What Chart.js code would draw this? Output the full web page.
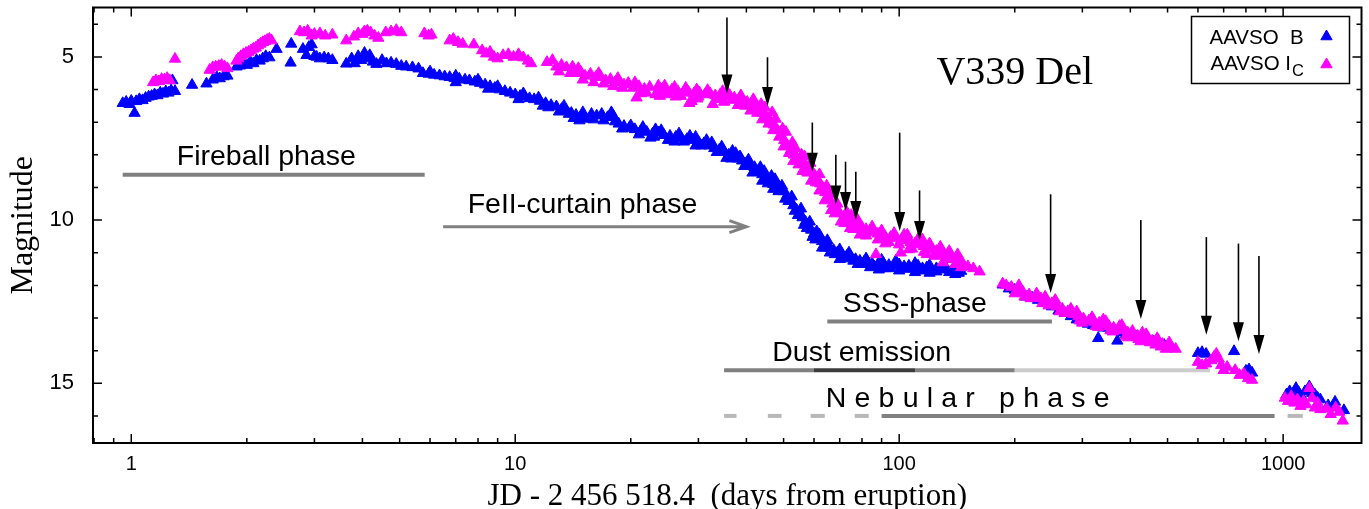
<!DOCTYPE html>
<html>
<head>
<meta charset="utf-8">
<script src="https://cdn.jsdelivr.net/npm/chart.js@4.4.0/dist/chart.umd.min.js"></script>
<style>
  html, body { margin: 0; padding: 0; background: #fff; }
  #wrap { width: 1369px; height: 509px; }
</style>
</head>
<body>
<div id="wrap"><canvas id="lightcurve"></canvas></div>
<script>
// AAVSO B band (days from eruption, magnitude)
var bDays = [
  0.95, 0.97, 0.99, 1.0, 1.02, 1.03, 1.05, 1.07, 1.09, 1.11, 1.13, 1.15, 1.17, 1.19, 1.21, 1.23, 1.25, 1.27, 1.28, 1.3,
  1.44, 1.57, 1.63, 1.67, 1.7, 1.74, 1.78,
  1.88, 1.92, 1.96, 2.0, 2.04, 2.08, 2.12, 2.16, 2.2, 2.24, 2.29, 2.39, 2.6, 2.61,
  2.8, 2.86, 2.9, 2.95, 3.0, 3.04, 3.1, 3.18, 3.26, 3.34,
  3.63, 3.75, 3.82, 3.9, 3.97, 4.05, 4.1, 4.18, 4.26, 4.35, 4.5, 4.62, 4.75, 4.9, 5.05, 5.2, 5.4, 5.6,
  5.75, 5.95, 6.15, 6.35, 6.55, 6.75, 6.95, 7.15, 7.4, 7.6, 7.85, 8.1, 8.35, 8.6, 8.85, 9.1, 9.4, 9.7, 10.0, 10.3,
  10.6, 10.9, 11.2, 11.6, 12.0, 12.4, 12.8, 13.2, 13.6, 14.0, 14.4, 14.7, 14.8, 15.3, 15.8, 16.3, 16.8, 17.4, 18.0,
  18.6, 19.2, 19.8, 20.5, 21.2, 22.0, 22.8, 23.6, 24.4, 25.3, 26.2, 27.1, 28.0, 29.0, 30.0, 31.0, 32.0, 33.0, 34.0,
  35.0, 36.0, 37.0, 38.0, 39.0, 40.0, 41.0, 42.0, 43.0, 44.0, 45.0, 46.0, 47.0, 48.0, 49.0, 50.0, 51.0, 52.0, 53.0,
  54.0, 55.0, 56.0, 57.0, 58.0, 59.0, 60.0, 61.5, 63.0, 64.5, 66.0, 67.5, 69.0, 71.0, 73.0, 75.0, 77.0, 79.0, 81.0,
  83.0, 85.0, 88.0, 88.5, 91, 94, 97, 100, 103, 106, 109, 112, 115, 118, 121, 125, 129, 133, 137, 141, 145,
  12.2, 13.0, 13.8, 16.0, 17.0, 19.0, 21.0, 23.0, 25.0, 27.5, 30.5, 33.5, 36.5, 39.5, 42.5, 45.5, 48.5, 51.5, 54.5,
  57.5, 60.5, 64, 68, 72, 76, 80, 86, 95, 105, 115, 125, 135, 143,
  20, 24, 28.5, 32.5, 37.5, 44.5, 47.5, 62, 70, 98, 110, 130,
  6.0, 7.0, 8.0, 9.0, 10.5, 11.5, 13.4, 15.0, 17.8, 21.5, 23.2, 26.7, 29.5, 31.5, 34.5, 36.8, 38.5, 40.5, 43.5,
  46.5, 49.5, 52.5, 55.5, 58.5, 61, 65, 74, 82, 90, 120, 140,
  7.0, 8.5, 10.2, 11.8, 14.2, 18.2, 22.5, 26, 29.5, 35.5, 41.5, 44, 47, 50.5, 53.5, 56.5, 59.5, 63, 66, 70, 78,
  84, 92, 100, 110, 120, 140,
  186, 193, 200, 207, 214, 222, 230, 240, 250, 260, 270, 280, 290, 300, 310, 320, 330, 340, 350, 360, 370, 380,
  390, 400, 415, 430, 445, 460, 475, 490,
  600, 615, 630, 745, 800, 815, 830,
  1020, 1040, 1045, 1060, 1080, 1090, 1100, 1120, 1140, 1170, 1190, 1210, 1230, 1250, 1310, 1365, 1440
];
var bMags = [
  6.42, 6.38, 6.45, 6.35, 6.72, 6.36, 6.3, 6.33, 6.26, 6.22, 6.2, 6.15, 6.18, 6.1, 6.13, 6.06, 6.1, 6.03, 5.72, 6.05,
  5.86, 5.82, 5.7, 5.62, 5.66, 5.6, 5.58,
  5.3, 5.27, 5.22, 5.25, 5.15, 5.2, 5.1, 5.12, 5.05, 4.98, 5.02, 4.76, 5.18, 4.6,
  4.76, 4.95, 4.7, 4.62, 4.98, 5.0, 5.05, 5.02, 5.05, 5.1,
  5.21, 5.05, 5.2, 4.98, 5.1, 4.88, 5.05, 4.95, 5.15, 5.22, 5.1, 5.2, 5.18, 5.22, 5.28, 5.3, 5.32, 5.36,
  5.5, 5.52, 5.55, 5.57, 5.6, 5.62, 5.65, 5.67, 5.7, 5.72, 5.76, 5.8, 5.85, 5.9, 5.95, 6.0, 6.05, 6.1, 6.15, 6.2,
  6.22, 6.27, 6.3, 6.35, 6.42, 6.48, 6.52, 6.6, 6.65, 6.72, 6.78, 6.95, 6.85, 6.9, 6.75, 6.8, 6.75, 6.85, 6.8,
  7.05, 7.12, 7.18, 7.22, 7.28, 7.3, 7.35, 7.32, 7.4, 7.42, 7.45, 7.5, 7.52, 7.55, 7.6, 7.65, 7.72, 7.8, 7.85,
  7.92, 8.0, 8.06, 8.12, 8.18, 8.25, 8.32, 8.38, 8.48, 8.6, 8.72, 8.82, 8.9, 8.98, 9.05, 9.12, 9.25, 9.4, 9.55,
  9.68, 9.8, 9.92, 10.05, 10.18, 10.3, 10.42, 10.55, 10.65, 10.75, 10.85, 10.92, 11.0, 11.05, 11.1, 11.15, 11.2, 11.25, 11.28,
  11.3, 11.33, 11.35, 11.52, 11.32, 11.38, 11.4, 11.36, 11.42, 11.4, 11.45, 11.4, 11.48, 11.45, 11.5, 11.48, 11.52, 11.5, 11.55, 11.52, 11.56,
  6.55, 6.68, 6.75, 6.92, 6.95, 7.2, 7.38, 7.45, 7.55, 7.6, 7.72, 7.92, 8.12, 8.35, 8.52, 8.88, 9.12, 9.42, 9.85,
  10.25, 10.6, 10.85, 11.05, 11.18, 11.25, 11.35, 11.42, 11.48, 11.5, 11.55, 11.58, 11.6, 11.62,
  7.1, 7.25, 7.42, 7.62, 7.95, 8.5, 8.75, 10.45, 10.9, 11.25, 11.32, 11.42,
  5.45, 5.58, 5.7, 5.9, 6.12, 6.25, 6.5, 6.7, 6.7, 7.15, 7.22, 7.35, 7.45, 7.55, 7.75, 7.88, 8.05, 8.15, 8.38,
  8.65, 8.95, 9.28, 9.65, 10.05, 10.35, 10.62, 11.0, 11.18, 11.22, 11.38, 11.45,
  5.78, 5.98, 6.3, 6.5, 6.88, 6.98, 7.48, 7.6, 7.72, 8.1, 8.55, 8.8, 9.05, 9.35, 9.72, 10.15, 10.52, 10.85, 11.0, 11.2, 11.35,
  11.45, 11.48, 11.55, 11.6, 11.62, 11.66,
  11.98, 12.1, 12.14, 12.22, 12.35, 12.38, 12.45, 12.55, 12.65, 12.78, 12.85, 12.95, 13.05, 13.12, 13.18, 13.22, 13.62, 13.3, 13.3, 13.36, 13.7, 13.45,
  13.5, 13.54, 13.58, 13.62, 13.67, 13.72, 13.78, 13.83,
  14.08, 14.05, 14.1, 14.02, 14.62, 14.58, 14.68,
  15.35, 15.25, 15.5, 15.4, 15.15, 15.55, 15.3, 15.42, 15.25, 15.1, 15.3, 15.35, 15.45, 15.5, 15.68, 15.57, 15.83
];

// AAVSO Ic band
var icDays = [
  1.14, 1.16, 1.18, 1.2, 1.22, 1.24, 1.26, 1.3,
  1.6, 1.63, 1.66, 1.69, 1.72, 1.75, 1.78,
  1.88, 1.9, 1.93, 1.96, 1.99, 2.02, 2.05, 2.08, 2.11, 2.14, 2.17, 2.2, 2.23, 2.26, 2.29, 2.32,
  2.75, 2.82, 2.88, 2.95, 3.0, 3.1, 3.2, 3.34,
  3.63, 3.8, 3.9, 4.0, 4.05, 4.12, 4.2, 4.3, 4.4,
  4.6, 4.75, 4.9, 5.05, 5.8, 5.95, 6.05, 6.75, 6.9, 7.1, 7.3,
  7.8, 8.2, 8.4, 8.6, 8.8, 9.0, 9.3, 9.6, 9.9, 10.2, 10.5, 10.8, 11.0,
  12.1, 12.8, 13.2, 13.6, 14.1, 14.4, 14.8, 15.2, 15.7, 16.2, 16.7, 17.2, 17.7, 18.2, 18.7, 19.2, 19.7, 20.3, 20.7,
  21.0, 21.7, 22.4, 23.2, 24.0, 24.8, 25.6, 26.5, 27.4, 28.3, 28.4, 28.8, 29.2, 30.2, 31.2, 32.2, 32.7, 33.2, 34.2,
  35.2, 36.2, 37.2, 38.2, 39.2, 40.2, 41.2, 42.2, 43.2, 44.2, 45.2, 46.2, 47.2, 48.2, 49.2, 50.2, 51.2, 52.2, 53.2,
  54.2, 55.2, 56.2, 57.2, 58.2, 59.2, 60.2, 61.2, 62.2, 63.2, 64.2, 65.5, 67, 68.5, 70, 72, 74, 76, 78, 80, 82,
  84, 86, 88, 90, 92, 95, 98, 101, 104, 107, 110, 113, 116, 119, 122, 125, 128, 131, 134, 137, 140, 143, 146,
  151, 156, 162,
  13.0, 15.0, 17.0, 19.0, 22.0, 25.0, 27.0, 30.0, 33.7, 36.7, 39.7, 42.7, 45.7, 48.7, 51.7, 54.7, 57.7, 60.7,
  64, 68, 72, 76, 82, 88, 94, 100, 108, 116, 124, 132, 140,
  24.5, 27.8, 31.7, 35.7, 43.7, 46.7, 50.7, 53.7, 56.7, 66, 75, 85, 97, 105, 112, 120, 135, 87, 101,
  12.5, 14.6, 16.5, 18.5, 20.5, 23.6, 26.0, 29.7, 34.7, 38.7, 41.7, 44.7, 47.7, 49.7, 52.7, 55.7, 58.7, 62, 64.7,
  69, 73, 78, 90, 103, 115, 128, 142,
  13.9, 16.0, 18.0, 21.3, 23.8, 26.2, 29.8, 35.0, 38.0, 41.0, 44.0, 47.0, 50.0, 53.0, 56.0, 59.0, 62.0, 66.5,
  70.5, 74.5, 79, 92, 106, 118, 130, 145,
  186, 190, 196, 203, 210, 218, 226, 234, 242, 250, 258, 266, 275, 284, 293, 302, 312, 322, 332, 342, 352, 362,
  372, 383, 394, 406, 418, 430, 443, 456, 470, 485, 500, 513, 525,
  200, 220, 245, 270, 300, 330, 360, 390, 420, 450, 480, 240, 280, 340, 380, 430,
  205, 228, 255, 290, 318, 345, 375, 405, 440, 470, 505, 212, 236, 262, 295, 325, 355, 395, 425, 465, 495,
  600, 615, 630, 650, 660, 670, 680, 690, 700, 715, 750, 770, 790, 810, 830,
  1010, 1030, 1050, 1070, 1090, 1110, 1130, 1150, 1170, 1190, 1210, 1230, 1250, 1300, 1330, 1370, 1400, 1430
];
var icMags = [
  5.78, 5.72, 5.75, 5.68, 5.7, 5.65, 5.72, 5.06,
  5.4, 5.32, 5.3, 5.28, 5.25, 5.3, 5.35,
  5.12, 5.05, 4.98, 4.92, 4.88, 4.85, 4.8, 4.75, 4.72, 4.65, 4.6, 4.55, 4.52, 4.48, 4.45, 4.5,
  4.22, 4.25, 4.2, 4.35, 4.3, 4.28, 4.35, 4.32,
  4.5, 4.38, 4.28, 4.3, 4.22, 4.2, 4.25, 4.35, 4.42,
  4.25, 4.22, 4.18, 4.25, 4.28, 4.35, 4.32, 4.5, 4.45, 4.55, 4.6,
  4.62, 4.8, 4.9, 4.85, 5.0, 5.05, 4.95, 4.92, 5.0, 4.92, 5.02, 5.12, 5.2,
  5.16, 5.3, 5.25, 5.32, 5.3, 5.5, 5.45, 5.58, 5.52, 5.62, 5.62, 5.72, 5.68, 5.78, 5.75, 5.85, 5.8, 5.95, 6.25,
  5.9, 5.98, 5.92, 6.15, 6.0, 6.05, 6.0, 6.05, 6.1, 6.08, 6.42, 6.36, 6.12, 6.1, 6.15, 6.12, 6.45, 6.18, 6.15,
  6.2, 6.18, 6.25, 6.3, 6.35, 6.38, 6.45, 6.52, 6.6, 6.72, 6.85, 6.95, 7.08, 7.25, 7.4, 7.55, 7.72, 7.85, 8.0,
  8.1, 8.2, 8.28, 8.35, 8.42, 8.52, 8.62, 8.75, 8.88, 9.0, 9.15, 9.35, 9.5, 9.65, 9.78, 9.9, 10.0, 10.08, 10.15, 10.22, 10.28,
  10.33, 10.38, 10.42, 10.47, 10.52, 10.52, 10.55, 10.62, 10.6, 10.68, 10.72, 10.75, 10.8, 10.85, 10.9, 10.95, 11.0, 11.05, 11.1, 11.15, 11.2, 11.25, 11.3,
  11.42, 11.48, 11.58,
  5.45, 5.7, 5.82, 5.95, 6.1, 6.15, 6.2, 6.22, 6.3, 6.32, 6.5, 6.72, 7.05, 7.45, 7.95, 8.3, 8.55, 8.85,
  9.4, 9.8, 10.1, 10.28, 10.48, 10.6, 10.68, 10.75, 10.88, 10.98, 11.1, 11.2, 11.35,
  5.88, 5.95, 6.02, 6.08, 6.45, 6.7, 7.3, 7.8, 8.05, 9.2, 9.85, 10.2, 10.4, 10.45, 10.58, 10.72, 10.95, 11.05, 11.0,
  5.1, 5.35, 5.5, 5.65, 5.78, 5.88, 5.92, 6.0, 6.05, 6.18, 6.3, 6.55, 6.9, 7.2, 7.62, 8.0, 8.25, 8.6, 8.95,
  9.5, 9.75, 10.0, 10.32, 10.45, 10.6, 10.82, 11.05,
  5.5, 5.78, 5.9, 6.12, 6.2, 6.22, 6.28, 6.38, 6.48, 6.65, 6.92, 7.25, 7.75, 8.2, 8.5, 8.8, 9.1, 9.7,
  10.05, 10.25, 10.45, 10.72, 10.9, 11.05, 11.3, 11.45,
  11.95, 12.0, 12.05, 12.12, 12.2, 12.28, 12.35, 12.4, 12.48, 12.55, 12.65, 12.72, 12.8, 12.88, 12.95, 13.02, 13.08, 13.12, 13.15, 13.2, 13.25, 13.3,
  13.35, 13.38, 13.45, 13.5, 13.55, 13.6, 13.65, 13.7, 13.72, 13.8, 13.85, 13.92, 13.95,
  12.25, 12.4, 12.62, 12.85, 13.15, 13.28, 13.42, 13.55, 13.65, 13.75, 13.88, 12.35, 12.72, 13.05, 13.22, 13.45,
  12.0, 12.25, 12.45, 12.8, 12.98, 13.1, 13.25, 13.4, 13.5, 13.62, 13.75, 12.35, 12.55, 12.8, 13.08, 13.25, 13.38, 13.6, 13.72, 13.82, 13.95,
  14.35, 14.45, 14.4, 14.3, 14.2, 14.1, 14.25, 14.45, 14.6, 14.5, 14.6, 14.75, 14.7, 14.85, 14.9,
  15.45, 15.55, 15.4, 15.6, 15.5, 15.7, 15.55, 15.65, 15.15, 15.45, 15.75, 15.6, 15.8, 15.78, 15.95, 15.75, 15.88, 16.15
];

// axis ticks
var xTickValues = [1, 10, 100, 1000];
var yTickValues = [5, 10, 15];

// spectra epochs marked by arrows: day, arrow tail mag, arrow tip mag
var arrowDays = [35.6, 45.4, 59.4, 68.4, 72.5, 77.1, 100.3, 113, 248, 426, 631, 765, 865];
var arrowTops = [3.79, 5.01, 7.01, 8.0, 8.21, 8.52, 7.32, 9.09, 9.21, 10.0, 10.52, 10.72, 11.1];
var arrowTips = [6.12, 6.5, 8.52, 9.52, 9.72, 10.0, 10.33, 10.61, 12.23, 13.03, 13.51, 13.71, 14.1];

// phase bars: start day, end day, mag, shade
var barFrom = [0.95, 65, 35, 60, 110, 200, 35, 45.5, 58.8, 76.6, 90, 1027];
var barTo = [5.81, 250, 60, 110, 200, 645, 37.7, 49.4, 64, 83.3, 950, 1125];
var barMag = [8.61, 13.11, 14.6, 14.6, 14.6, 14.6, 16.0, 16.0, 16.0, 16.0, 16.0, 16.0];
var barShade = ['mid', 'mid', 'mid', 'dark', 'mid', 'light', 'pale', 'pale', 'pale', 'pale', 'mid', 'pale'];

// FeII-curtain arrow: from day, to day, mag
var feiiArrow = [6.49, 40.0, 10.2];

// phase labels: left day, baseline mag
var phaseNames = ['Fireball phase', 'FeII-curtain phase', 'SSS-phase', 'Dust emission', 'Nebular phase'];
var phaseDays = [1.314, 7.52, 71.3, 46.7, 64.4];
var phaseMags = [8.30, 9.79, 12.81, 14.31, 15.73];

var shades = { mid: '#808080', dark: '#3c3c3c', light: '#cccccc', pale: '#b8b8b8' };
var SANS = 'Liberation Sans, Arial, sans-serif';
var SERIF = 'Liberation Serif, Times New Roman, serif';

function pairs(days, mags) {
  var out = [];
  for (var i = 0; i < days.length; i++) out.push({ x: days[i], y: mags[i] });
  return out;
}

function triangle(ctx, x, y, r, color) {
  ctx.beginPath();
  ctx.moveTo(x, y - r);
  ctx.lineTo(x + Math.sin(Math.PI * 2 / 3) * r, y + r / 2);
  ctx.lineTo(x - Math.sin(Math.PI * 2 / 3) * r, y + r / 2);
  ctx.closePath();
  ctx.fillStyle = color;
  ctx.fill();
  ctx.lineWidth = 1;
  ctx.strokeStyle = color;
  ctx.stroke();
}

var decorPlugin = {
  id: 'decor',
  beforeDatasetsDraw: function(chart) {
    var ctx = chart.ctx;
    var xs = chart.scales.x, ys = chart.scales.y;
    ctx.save();
    ctx.lineWidth = 4;
    ctx.lineCap = 'butt';
    for (var i = 0; i < barFrom.length; i++) {
      ctx.strokeStyle = shades[barShade[i]];
      ctx.beginPath();
      ctx.moveTo(xs.getPixelForValue(barFrom[i]), ys.getPixelForValue(barMag[i]));
      ctx.lineTo(xs.getPixelForValue(barTo[i]), ys.getPixelForValue(barMag[i]));
      ctx.stroke();
    }
    // FeII curtain arrow
    var ax0 = xs.getPixelForValue(feiiArrow[0]);
    var ax1 = xs.getPixelForValue(feiiArrow[1]);
    var ay = ys.getPixelForValue(feiiArrow[2]);
    ctx.strokeStyle = '#808080';
    ctx.lineWidth = 3;
    ctx.beginPath();
    ctx.moveTo(ax0, ay);
    ctx.lineTo(ax1, ay);
    ctx.moveTo(ax1 - 17, ay - 6);
    ctx.lineTo(ax1, ay);
    ctx.lineTo(ax1 - 17, ay + 6);
    ctx.stroke();

    // phase labels
    ctx.fillStyle = '#000';
    ctx.font = '28.5px ' + SANS;
    ctx.textBaseline = 'alphabetic';
    ctx.textAlign = 'left';
    for (var k = 0; k < phaseNames.length; k++) {
      var tx = xs.getPixelForValue(phaseDays[k]);
      var ty = ys.getPixelForValue(phaseMags[k]);
      if (phaseNames[k] === 'Nebular phase') {
        var chars = phaseNames[k].split('');
        for (var c = 0; c < chars.length; c++) {
          ctx.fillText(chars[c], tx, ty);
          tx += ctx.measureText(chars[c]).width + 8.2;
        }
      } else {
        ctx.fillText(phaseNames[k], tx, ty);
      }
    }
    ctx.restore();
  },
  afterDatasetsDraw: function(chart) {
    var ctx = chart.ctx;
    var xs = chart.scales.x, ys = chart.scales.y;
    var area = chart.chartArea;
    ctx.save();

    // spectrum arrows
    ctx.strokeStyle = '#000';
    ctx.fillStyle = '#000';
    ctx.lineWidth = 1.6;
    for (var i = 0; i < arrowDays.length; i++) {
      var x = xs.getPixelForValue(arrowDays[i]);
      var y0 = ys.getPixelForValue(arrowTops[i]);
      var y1 = ys.getPixelForValue(arrowTips[i]);
      ctx.beginPath();
      ctx.moveTo(x, y0);
      ctx.lineTo(x, y1 - 15);
      ctx.stroke();
      ctx.beginPath();
      ctx.moveTo(x, y1);
      ctx.lineTo(x - 5.5, y1 - 19);
      ctx.lineTo(x + 5.5, y1 - 19);
      ctx.closePath();
      ctx.fill();
    }

    // star name
    ctx.font = '40px ' + SERIF;
    ctx.textAlign = 'center';
    ctx.textBaseline = 'alphabetic';
    ctx.fillText('V339 Del', xs.getPixelForValue(200), ys.getPixelForValue(5.83));

    // legend
    var bx = area.right - 170, by = area.top + 9;
    ctx.lineWidth = 1.5;
    ctx.strokeRect(bx, by, 158, 67);
    ctx.textAlign = 'left';
    ctx.font = '20.5px ' + SANS;
    ctx.fillText('AAVSO  B', bx + 18, by + 27);
    ctx.fillText('AAVSO I', bx + 19, by + 53);
    var w = ctx.measureText('AAVSO I').width;
    ctx.font = '16.5px ' + SANS;
    ctx.fillText('C', bx + 19 + w + 1, by + 59.5);
    triangle(ctx, bx + 135, by + 20, 6.5, '#0000ff');
    triangle(ctx, bx + 135, by + 48, 6.5, '#ff00ff');

    // frame
    ctx.lineWidth = 2;
    ctx.strokeStyle = '#000';
    ctx.strokeRect(area.left, area.top, area.right - area.left, area.bottom - area.top);

    // inward tick marks on all four sides
    ctx.lineWidth = 1.5;
    ctx.beginPath();
    for (var p = -1; p <= 3; p++) {
      for (var m = 1; m <= 9; m++) {
        var v = m * Math.pow(10, p);
        if (v < xs.min || v > xs.max) continue;
        var tx = xs.getPixelForValue(v);
        var len = m === 1 ? 9 : 5;
        ctx.moveTo(tx, area.bottom);
        ctx.lineTo(tx, area.bottom - len);
        ctx.moveTo(tx, area.top);
        ctx.lineTo(tx, area.top + len);
      }
    }
    for (var mag = 4; mag <= 16; mag++) {
      var ty = ys.getPixelForValue(mag);
      var ylen = mag % 5 === 0 ? 9 : 5;
      ctx.moveTo(area.left, ty);
      ctx.lineTo(area.left + ylen, ty);
      ctx.moveTo(area.right, ty);
      ctx.lineTo(area.right - ylen, ty);
    }
    ctx.stroke();
    ctx.restore();
  }
};

document.addEventListener('DOMContentLoaded', function() {
  new Chart(document.getElementById('lightcurve'), {
    type: 'scatter',
    data: {
      datasets: [{
        label: 'AAVSO Ic',
        data: pairs(icDays, icMags),
        order: 0,
        pointStyle: 'triangle',
        pointRadius: 6.5,
        borderWidth: 1,
        backgroundColor: '#ff00ff',
        borderColor: '#ff00ff'
      }, {
        label: 'AAVSO B',
        data: pairs(bDays, bMags),
        order: 1,
        pointStyle: 'triangle',
        pointRadius: 6.5,
        borderWidth: 1,
        backgroundColor: '#0000ff',
        borderColor: '#0000ff'
      }]
    },
    options: {
      responsive: true,
      maintainAspectRatio: false,
      animation: false,
      layout: { padding: { top: 5, right: 7, left: 0, bottom: 0 } },
      plugins: {
        legend: { display: false },
        tooltip: { enabled: false }
      },
      scales: {
        x: {
          type: 'logarithmic',
          min: 0.795,
          max: 1600,
          grid: { display: false },
          border: { display: false },
          afterBuildTicks: function(scale) {
            scale.ticks = xTickValues.map(function(v) { return { value: v }; });
          },
          afterFit: function(scale) {
            scale.height = 66;
            scale.paddingLeft = 0;
            scale.paddingRight = 0;
          },
          ticks: {
            autoSkip: false,
            maxRotation: 0,
            padding: 1,
            color: '#000',
            font: { family: SANS, size: 20 },
            callback: function(v) { return String(v); }
          },
          title: {
            display: true,
            text: 'JD - 2 456 518.4  (days from eruption)',
            color: '#000',
            font: { family: SERIF, size: 31, lineHeight: 1 },
            padding: { top: 0, bottom: -3.5 }
          }
        },
        y: {
          type: 'linear',
          reverse: true,
          min: 3.485,
          max: 16.83,
          grid: { display: false },
          border: { display: false },
          afterBuildTicks: function(scale) {
            scale.ticks = yTickValues.map(function(v) { return { value: v }; });
          },
          afterFit: function(scale) {
            scale.width = 93;
            scale.paddingTop = 0;
            scale.paddingBottom = 0;
          },
          ticks: {
            padding: 11,
            color: '#000',
            font: { family: SANS, size: 22 }
          },
          title: {
            display: true,
            text: 'Magnitude',
            color: '#000',
            font: { family: SERIF, size: 32, lineHeight: 1 },
            padding: { top: 8, bottom: 0 }
          }
        }
      }
    },
    plugins: [decorPlugin]
  });
});
</script>
</body>
</html>
